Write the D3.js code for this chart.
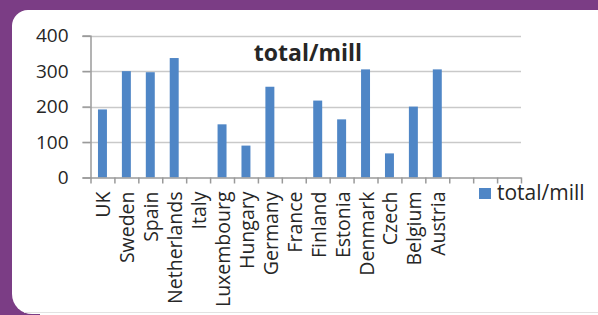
<!DOCTYPE html>
<html>
<head>
<meta charset="utf-8">
<script src="https://cdn.jsdelivr.net/npm/d3@7"></script>
<style>
  body { margin: 0; background: #7b3d85; }
  svg { display: block; }
  text { font-family: "Open Sans", sans-serif; fill: #262626; }
</style>
</head>
<body>
<svg id="chart" width="598" height="315"></svg>
<script>
// data
const countries = ['UK', 'Sweden', 'Spain', 'Netherlands', 'Italy', 'Luxembourg', 'Hungary',
  'Germany', 'France', 'Finland', 'Estonia', 'Denmark', 'Czech', 'Belgium', 'Austria'];
const totalPerMill = [192, 300, 297, 337, 0, 150, 90, 256, 0, 217, 164, 305, 68, 200, 305];
const yTicks = [0, 100, 200, 300, 400];
const emptySlots = 3; // blank categories at the right end of the axis
const seriesName = 'total/mill';

const svg = d3.select('#chart');
const W = 598, H = 315;

// purple frame + white panel
svg.append('rect').attr('width', W).attr('height', H).attr('fill', '#7b3d85');
svg.append('rect')
  .attr('x', 12).attr('y', 10)
  .attr('width', W + 20).attr('height', 304)
  .attr('rx', 20)
  .attr('fill', '#ffffff');
svg.append('rect')
  .attr('x', 40).attr('y', 10)
  .attr('width', W).attr('height', 310)
  .attr('fill', '#ffffff');
svg.append('rect')
  .attr('x', 12).attr('y', 10)
  .attr('width', W).attr('height', 290)
  .attr('rx', 16)
  .attr('fill', '#ffffff');
svg.append('line')
  .attr('x1', 24).attr('x2', W).attr('y1', 312.5).attr('y2', 312.5)
  .attr('stroke', '#e2e2e2');

// scales
const slots = countries.concat(d3.range(emptySlots).map(i => `__empty${i}`));
const plotLeft = 90.5, plotRight = 521, plotTop = 35.7, plotBottom = 177.5;

const x = d3.scaleBand()
  .domain(slots)
  .range([plotLeft, plotRight])
  .padding(0);

const y = d3.scaleLinear()
  .domain([0, 400])
  .range([plotBottom, plotTop]);

const barW = x.bandwidth() * 0.375;

// gridlines
svg.append('g')
  .selectAll('line')
  .data(yTicks.filter(d => d > 0))
  .enter()
  .append('line')
  .attr('x1', plotLeft - 8).attr('x2', plotRight)
  .attr('y1', d => Math.round(y(d)) + 0.5)
  .attr('y2', d => Math.round(y(d)) + 0.5)
  .attr('stroke', '#c9c9c9')
  .attr('stroke-width', 1.5);

// y axis
const yAxis = svg.append('g')
  .attr('transform', `translate(${plotLeft},0)`)
  .call(d3.axisLeft(y).tickValues(yTicks).tickSize(8).tickPadding(14));
yAxis.select('.domain').attr('stroke', '#9a9a9a').attr('stroke-width', 1.5);
yAxis.selectAll('.tick line').attr('stroke', '#9a9a9a').attr('stroke-width', 1.5);
yAxis.selectAll('.tick text')
  .style('font-family', '"Open Sans", sans-serif')
  .style('font-size', '19px')
  .attr('fill', '#262626');

// bars
svg.append('g')
  .selectAll('rect')
  .data(countries.map((c, i) => ({ c, v: totalPerMill[i] })))
  .enter()
  .append('rect')
  .attr('x', d => x(d.c) + (x.bandwidth() - barW) / 2)
  .attr('y', d => y(d.v))
  .attr('width', barW)
  .attr('height', d => y(0) - y(d.v))
  .attr('fill', '#4f86c6');

// x axis: tick marks between categories
const xIdx = d3.scaleLinear().domain([0, slots.length]).range([plotLeft, plotRight]);
const xAxis = svg.append('g')
  .attr('transform', `translate(0,${plotBottom})`)
  .call(d3.axisBottom(xIdx).tickValues(d3.range(slots.length + 1))
    .tickSize(6).tickSizeOuter(0).tickFormat(''));
xAxis.select('.domain').attr('stroke', '#9a9a9a').attr('stroke-width', 1.5);
xAxis.selectAll('.tick line').attr('stroke', '#9a9a9a').attr('stroke-width', 1.5);

// category labels, rotated
svg.append('g')
  .selectAll('text')
  .data(countries)
  .enter()
  .append('text')
  .attr('transform', d => `translate(${x(d) + x.bandwidth() / 2 + 8},${plotBottom + 14}) rotate(-90)`)
  .attr('text-anchor', 'end')
  .style('font-size', '19.5px')
  .text(d => d);

// title
svg.append('text')
  .attr('x', 308).attr('y', 61)
  .attr('text-anchor', 'middle')
  .style('font-size', '23px')
  .style('font-weight', 'bold')
  .attr('fill', '#000')
  .text(seriesName);

// legend
const legend = svg.append('g').attr('transform', 'translate(479,188)');
legend.append('rect').attr('width', 12).attr('height', 11).attr('fill', '#4f86c6');
legend.append('text')
  .attr('x', 18).attr('y', 12)
  .style('font-size', '21px')
  .text(seriesName);
</script>
</body>
</html>
